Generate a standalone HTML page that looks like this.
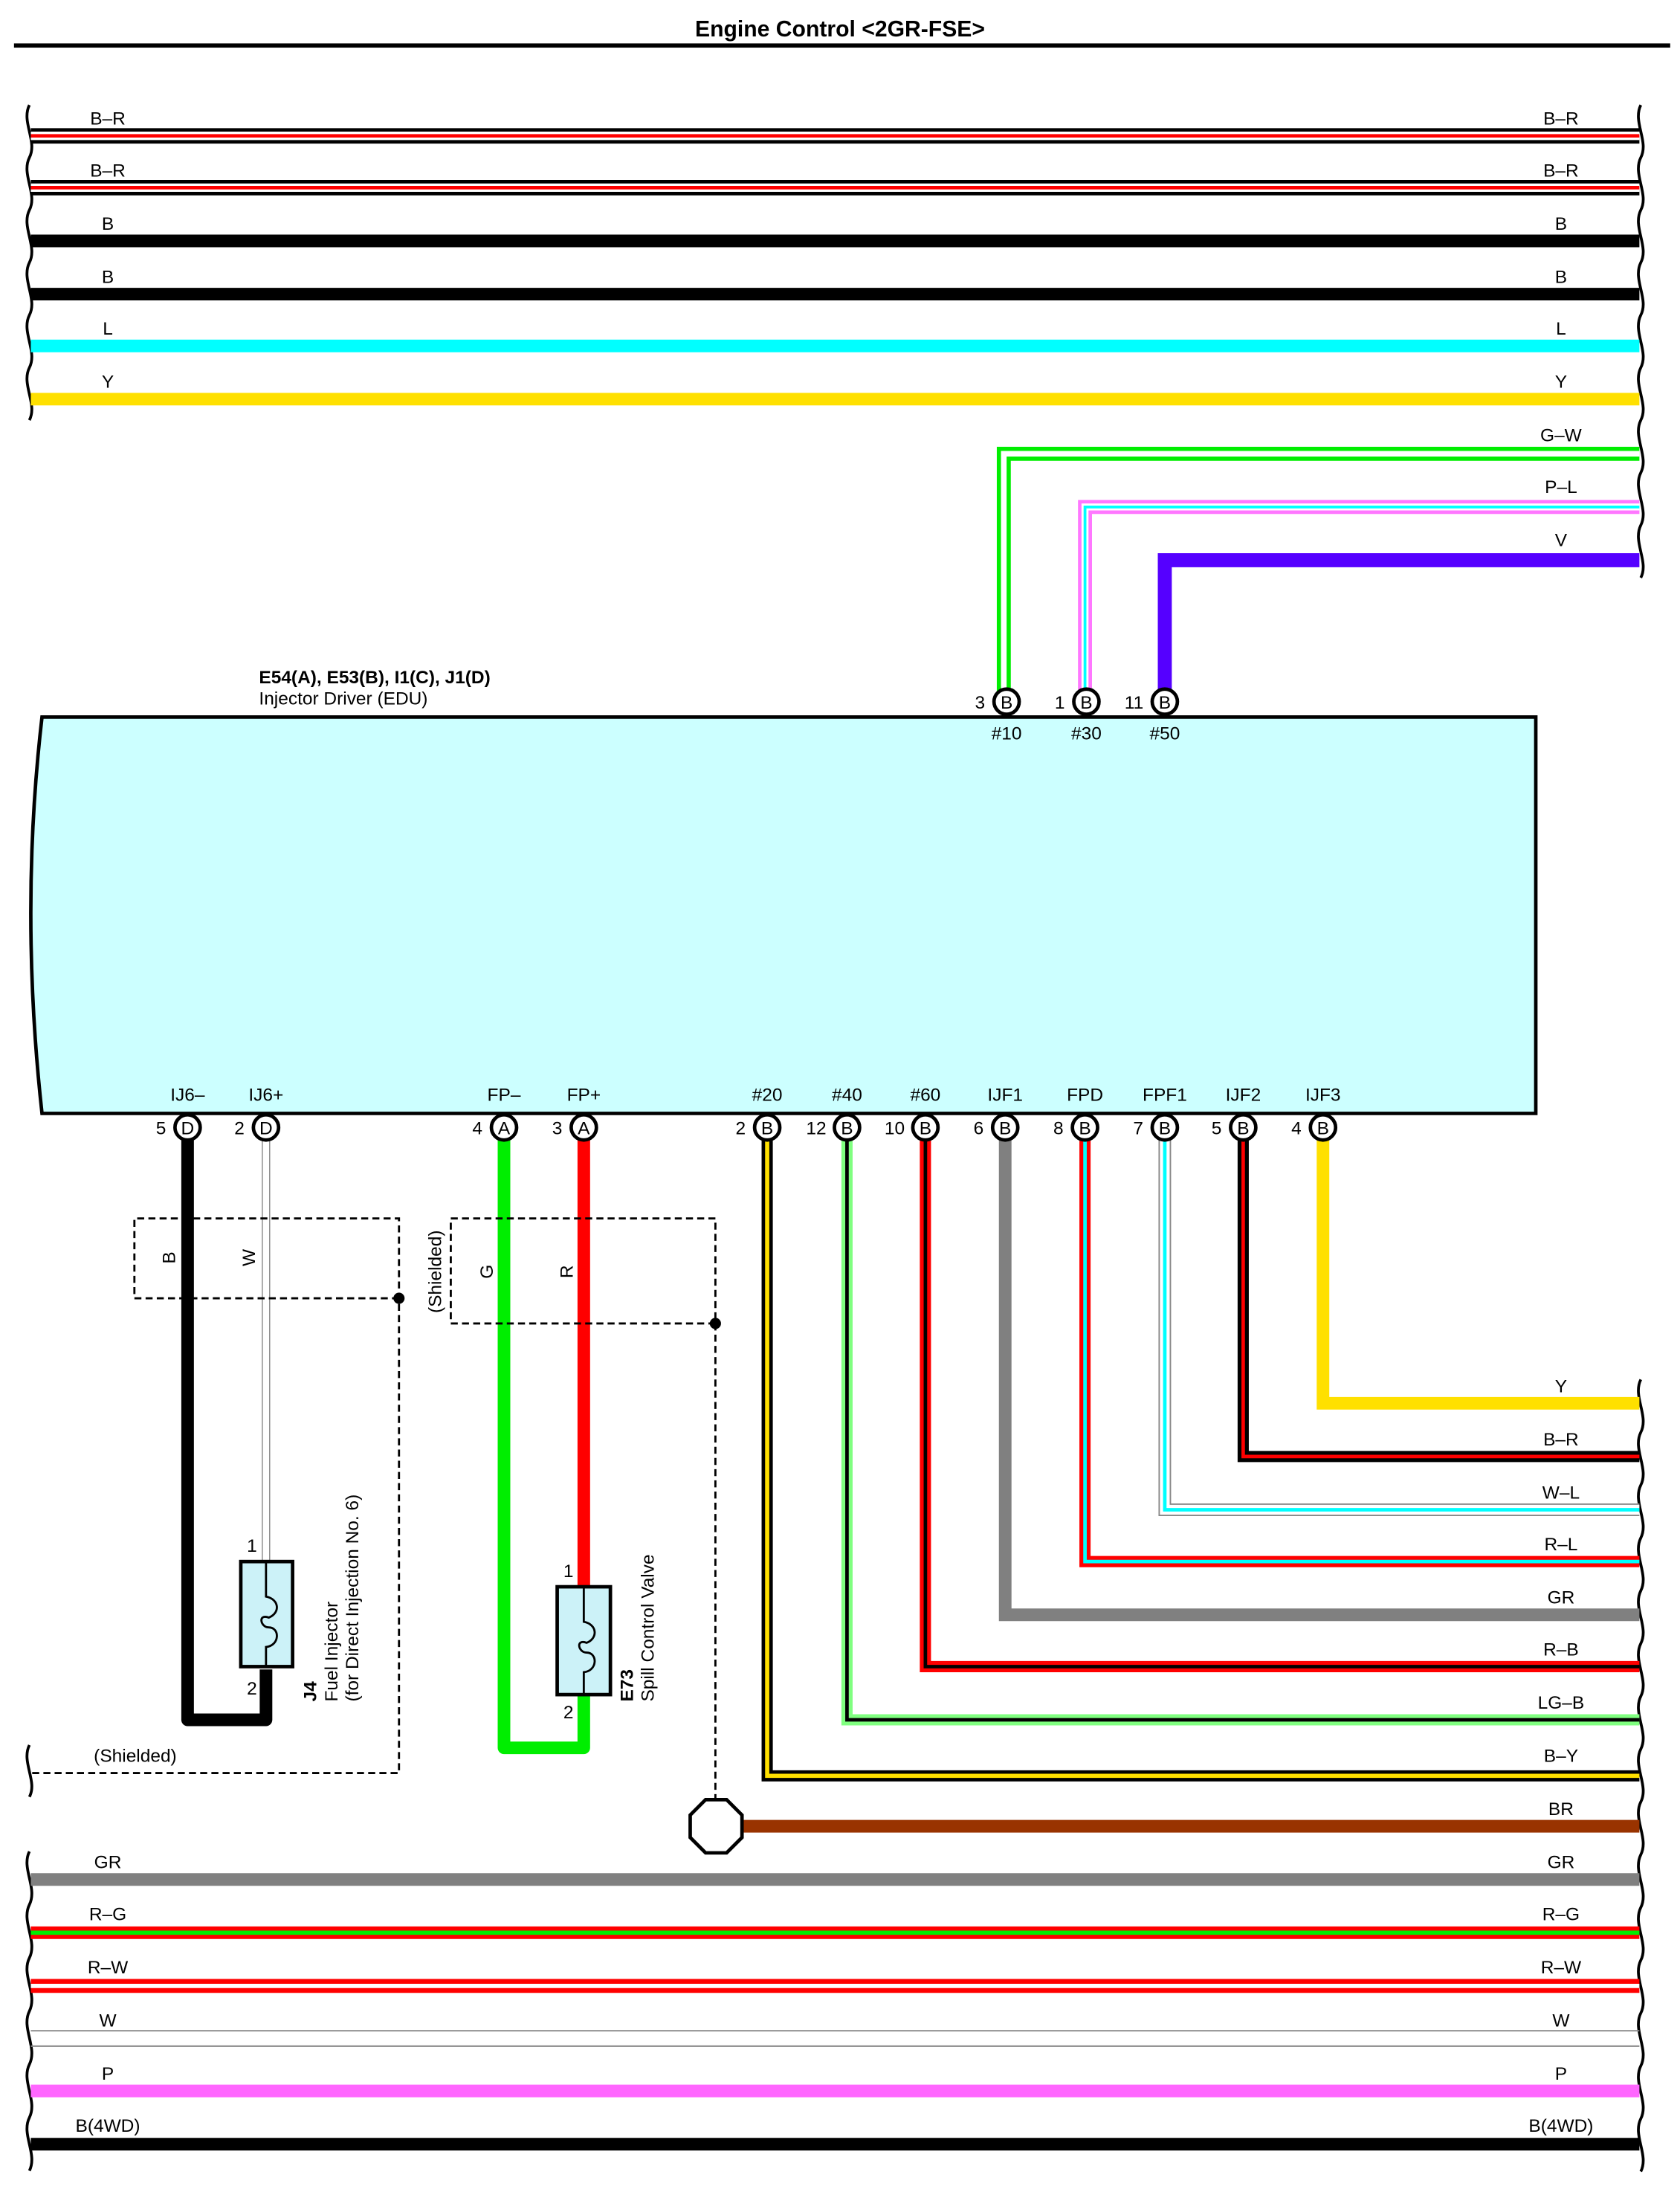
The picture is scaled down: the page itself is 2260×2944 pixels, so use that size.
<!DOCTYPE html>
<html><head><meta charset="utf-8"><style>
html,body{margin:0;padding:0;background:#fff}
svg{display:block}
text{font-family:"Liberation Sans",Arial,sans-serif;font-size:13px;fill:#000}
.c{text-anchor:middle}
</style></head><body>
<svg width="2260" height="2944" viewBox="0 0 1200 1563" preserveAspectRatio="none" xmlns="http://www.w3.org/2000/svg">
<text x="600" y="26" class="c" style="font-size:16px;font-weight:bold">Engine Control &lt;2GR-FSE&gt;</text>
<rect x="10" y="31" width="1183" height="3" fill="#000"/>

<g fill="none" stroke="#000" stroke-width="2">
<path d="M21 75 c-6 12 6 26 0 37.5 c-6 12 6 26 0 37.5 c-6 12 6 26 0 37.5 c-6 12 6 26 0 37.5 c-6 12 6 26 0 37.5 c-6 12 6 26 0 37.5"/>
<path d="M1172 75 c-6 12 6 26 0 37.5 c-6 12 6 26 0 37.5 c-6 12 6 26 0 37.5 c-6 12 6 26 0 37.5 c-6 12 6 26 0 37.5 c-6 12 6 26 0 37.5 c-6 12 6 26 0 37.5 c-6 12 6 26 0 37.5 c-6 12 6 26 0 37.5"/>
<path d="M1172 985 c-6 12 6 26 0 37.7 c-6 12 6 26 0 37.7 c-6 12 6 26 0 37.7 c-6 12 6 26 0 37.7 c-6 12 6 26 0 37.7 c-6 12 6 26 0 37.7 c-6 12 6 26 0 37.7 c-6 12 6 26 0 37.7 c-6 12 6 26 0 37.7 c-6 12 6 26 0 37.7 c-6 12 6 26 0 37.7 c-6 12 6 26 0 37.7 c-6 12 6 26 0 37.7 c-6 12 6 26 0 37.7 c-6 12 6 26 0 37.7"/>
<path d="M21 1246 c-6 12 6 26 0 37"/>
<path d="M21 1322 c-6 12 6 26 0 38 c-6 12 6 26 0 38 c-6 12 6 26 0 38 c-6 12 6 26 0 38 c-6 12 6 26 0 38 c-6 12 6 26 0 38"/>
</g>

<g>
<line x1="22" y1="97" x2="1171" y2="97" stroke="#000" stroke-width="11"/>
<line x1="22" y1="97" x2="1171" y2="97" stroke="#fff" stroke-width="6"/>
<line x1="22" y1="97" x2="1171" y2="97" stroke="#f00" stroke-width="2.5"/>
<line x1="22" y1="134" x2="1171" y2="134" stroke="#000" stroke-width="11"/>
<line x1="22" y1="134" x2="1171" y2="134" stroke="#fff" stroke-width="6"/>
<line x1="22" y1="134" x2="1171" y2="134" stroke="#f00" stroke-width="2.5"/>
<line x1="22" y1="172" x2="1171" y2="172" stroke="#000" stroke-width="9"/>
<line x1="22" y1="210" x2="1171" y2="210" stroke="#000" stroke-width="9"/>
<line x1="22" y1="247" x2="1171" y2="247" stroke="#00ffff" stroke-width="9"/>
<line x1="22" y1="285" x2="1171" y2="285" stroke="#ffe000" stroke-width="9"/>
</g>
<g>
<text x="77" y="89" class="c">B–R</text><text x="1115" y="89" class="c">B–R</text>
<text x="77" y="126" class="c">B–R</text><text x="1115" y="126" class="c">B–R</text>
<text x="77" y="164" class="c">B</text><text x="1115" y="164" class="c">B</text>
<text x="77" y="202" class="c">B</text><text x="1115" y="202" class="c">B</text>
<text x="77" y="239" class="c">L</text><text x="1115" y="239" class="c">L</text>
<text x="77" y="277" class="c">Y</text><text x="1115" y="277" class="c">Y</text>
<text x="1115" y="315" class="c">G–W</text>
<text x="1115" y="352" class="c">P–L</text>
<text x="1115" y="390" class="c">V</text>
</g>

<g fill="none" stroke-linejoin="miter">
<polyline points="717,495 717,324 1171,324" stroke="#00ee00" stroke-width="10"/>
<polyline points="717,495 717,324 1171,324" stroke="#fff" stroke-width="4"/>
<polyline points="775,495 775,362 1171,362" stroke="#ff77ff" stroke-width="10"/>
<polyline points="775,495 775,362 1171,362" stroke="#fff" stroke-width="5"/>
<polyline points="775,495 775,362 1171,362" stroke="#00ffff" stroke-width="2"/>
<polyline points="832,495 832,400 1171,400" stroke="#5500ff" stroke-width="10"/>
</g>

<text x="185" y="488" style="font-weight:bold">E54(A), E53(B), I1(C), J1(D)</text>
<text x="185" y="503">Injector Driver (EDU)</text>

<path d="M30 512 L1097 512 L1097 795 L30 795 Q14 650 30 512 Z" fill="#ccffff" stroke="#000" stroke-width="2.5"/>

<g>
<circle cx="719" cy="501" r="9" fill="#fff" stroke="#000" stroke-width="2.5"/><text x="719" y="506" class="c">B</text><text x="700" y="506" class="c">3</text>
<circle cx="776" cy="501" r="9" fill="#fff" stroke="#000" stroke-width="2.5"/><text x="776" y="506" class="c">B</text><text x="757" y="506" class="c">1</text>
<circle cx="832" cy="501" r="9" fill="#fff" stroke="#000" stroke-width="2.5"/><text x="832" y="506" class="c">B</text><text x="810" y="506" class="c">11</text>
<text x="719" y="528" class="c">#10</text><text x="776" y="528" class="c">#30</text><text x="832" y="528" class="c">#50</text>
</g>

<g>
<text x="134" y="786" class="c">IJ6–</text><text x="190" y="786" class="c">IJ6+</text>
<text x="360" y="786" class="c">FP–</text><text x="417" y="786" class="c">FP+</text>
<text x="548" y="786" class="c">#20</text><text x="605" y="786" class="c">#40</text>
<text x="661" y="786" class="c">#60</text><text x="718" y="786" class="c">IJF1</text>
<text x="775" y="786" class="c">FPD</text><text x="832" y="786" class="c">FPF1</text>
<text x="888" y="786" class="c">IJF2</text><text x="945" y="786" class="c">IJF3</text>
</g>

<g fill="none">
<polyline points="134,812 134,1228 190,1228 190,1192" stroke="#000" stroke-width="9" stroke-linejoin="round"/>
<line x1="190" y1="812" x2="190" y2="1115" stroke="#888" stroke-width="6"/>
<line x1="190" y1="812" x2="190" y2="1115" stroke="#fff" stroke-width="4.5"/>
<polyline points="360,812 360,1248 417,1248 417,1210" stroke="#00ee00" stroke-width="9" stroke-linejoin="round"/>
<line x1="417" y1="812" x2="417" y2="1133" stroke="#ff0000" stroke-width="9"/>

<polyline points="548,812 548,1268 1171,1268" stroke="#000" stroke-width="8"/>
<polyline points="548,812 548,1268 1171,1268" stroke="#ffe000" stroke-width="3"/>
<polyline points="605,812 605,1228 1171,1228" stroke="#80ff80" stroke-width="8"/>
<polyline points="605,812 605,1228 1171,1228" stroke="#000" stroke-width="2.5"/>
<polyline points="661,812 661,1190 1171,1190" stroke="#ff0000" stroke-width="8"/>
<polyline points="661,812 661,1190 1171,1190" stroke="#000" stroke-width="2.5"/>
<polyline points="718,812 718,1153 1171,1153" stroke="#808080" stroke-width="9"/>
<polyline points="775,812 775,1115 1171,1115" stroke="#ff0000" stroke-width="8"/>
<polyline points="775,812 775,1115 1171,1115" stroke="#00ffff" stroke-width="2.5"/>
<polyline points="832,812 832,1078 1171,1078" stroke="#888" stroke-width="9"/>
<polyline points="832,812 832,1078 1171,1078" stroke="#fff" stroke-width="7"/>
<polyline points="832,812 832,1078 1171,1078" stroke="#00ffff" stroke-width="2.5"/>
<polyline points="888,812 888,1040 1171,1040" stroke="#000" stroke-width="8"/>
<polyline points="888,812 888,1040 1171,1040" stroke="#ff0000" stroke-width="2.5"/>
<polyline points="945,812 945,1002 1171,1002" stroke="#ffe000" stroke-width="9"/>
<line x1="530" y1="1304" x2="1171" y2="1304" stroke="#993300" stroke-width="9"/>
</g>
<g>
<text x="1115" y="994" class="c">Y</text>
<text x="1115" y="1032" class="c">B–R</text>
<text x="1115" y="1070" class="c">W–L</text>
<text x="1115" y="1107" class="c">R–L</text>
<text x="1115" y="1145" class="c">GR</text>
<text x="1115" y="1182" class="c">R–B</text>
<text x="1115" y="1220" class="c">LG–B</text>
<text x="1115" y="1258" class="c">B–Y</text>
<text x="1115" y="1296" class="c">BR</text>
</g>

<g>
<circle cx="134" cy="805" r="9" fill="#fff" stroke="#000" stroke-width="2.5"/><text x="134" y="810" class="c">D</text><text x="115" y="810" class="c">5</text>
<circle cx="190" cy="805" r="9" fill="#fff" stroke="#000" stroke-width="2.5"/><text x="190" y="810" class="c">D</text><text x="171" y="810" class="c">2</text>
<circle cx="360" cy="805" r="9" fill="#fff" stroke="#000" stroke-width="2.5"/><text x="360" y="810" class="c">A</text><text x="341" y="810" class="c">4</text>
<circle cx="417" cy="805" r="9" fill="#fff" stroke="#000" stroke-width="2.5"/><text x="417" y="810" class="c">A</text><text x="398" y="810" class="c">3</text>
<circle cx="548" cy="805" r="9" fill="#fff" stroke="#000" stroke-width="2.5"/><text x="548" y="810" class="c">B</text><text x="529" y="810" class="c">2</text>
<circle cx="605" cy="805" r="9" fill="#fff" stroke="#000" stroke-width="2.5"/><text x="605" y="810" class="c">B</text><text x="583" y="810" class="c">12</text>
<circle cx="661" cy="805" r="9" fill="#fff" stroke="#000" stroke-width="2.5"/><text x="661" y="810" class="c">B</text><text x="639" y="810" class="c">10</text>
<circle cx="718" cy="805" r="9" fill="#fff" stroke="#000" stroke-width="2.5"/><text x="718" y="810" class="c">B</text><text x="699" y="810" class="c">6</text>
<circle cx="775" cy="805" r="9" fill="#fff" stroke="#000" stroke-width="2.5"/><text x="775" y="810" class="c">B</text><text x="756" y="810" class="c">8</text>
<circle cx="832" cy="805" r="9" fill="#fff" stroke="#000" stroke-width="2.5"/><text x="832" y="810" class="c">B</text><text x="813" y="810" class="c">7</text>
<circle cx="888" cy="805" r="9" fill="#fff" stroke="#000" stroke-width="2.5"/><text x="888" y="810" class="c">B</text><text x="869" y="810" class="c">5</text>
<circle cx="945" cy="805" r="9" fill="#fff" stroke="#000" stroke-width="2.5"/><text x="945" y="810" class="c">B</text><text x="926" y="810" class="c">4</text>
</g>

<g fill="none" stroke="#000" stroke-width="1.5" stroke-dasharray="5,3">
<path d="M285 927 L96 927 L96 870 L285 870 L285 1266 L22 1266"/>
<path d="M511 945 L322 945 L322 870 L511 870 L511 1284"/>
</g>
<circle cx="285" cy="927" r="4" fill="#000"/>
<circle cx="511" cy="945" r="4" fill="#000"/>
<text x="67" y="1258">(Shielded)</text>
<text transform="translate(315,908) rotate(-90)" class="c">(Shielded)</text>
<text transform="translate(125,898) rotate(-90)" class="c">B</text>
<text transform="translate(182,898) rotate(-90)" class="c">W</text>
<text transform="translate(352,908) rotate(-90)" class="c">G</text>
<text transform="translate(409,908) rotate(-90)" class="c">R</text>

<polygon points="504,1285 519,1285 530,1296 530,1312 519,1323 504,1323 493,1312 493,1296" fill="#fff" stroke="#000" stroke-width="2.5"/>

<rect x="172" y="1115" width="37" height="75" fill="#ccf2f8" stroke="#000" stroke-width="2.5"/>
<path d="M190 1115 L190 1140 C200 1142 200 1152 192 1155 C184 1152 186 1162 192 1162 C200 1162 200 1175 190 1176 L190 1190" fill="none" stroke="#000" stroke-width="1.5"/>
<text x="180" y="1108" class="c">1</text><text x="180" y="1210" class="c">2</text>
<text transform="translate(226,1215) rotate(-90)" style="font-weight:bold">J4</text>
<text transform="translate(241,1215) rotate(-90)">Fuel Injector</text>
<text transform="translate(256,1215) rotate(-90)">(for Direct Injection No. 6)</text>

<rect x="398" y="1133" width="38" height="77" fill="#ccf2f8" stroke="#000" stroke-width="2.5"/>
<path d="M417 1133 L417 1158 C427 1160 427 1170 419 1173 C411 1170 413 1180 419 1180 C427 1180 427 1193 417 1194 L417 1210" fill="none" stroke="#000" stroke-width="1.5"/>
<text x="406" y="1126" class="c">1</text><text x="406" y="1227" class="c">2</text>
<text transform="translate(452,1215) rotate(-90)" style="font-weight:bold">E73</text>
<text transform="translate(467,1215) rotate(-90)">Spill Control Valve</text>

<g>
<line x1="22" y1="1342" x2="1171" y2="1342" stroke="#808080" stroke-width="9"/>
<line x1="22" y1="1380" x2="1171" y2="1380" stroke="#ff0000" stroke-width="9"/>
<line x1="22" y1="1380" x2="1171" y2="1380" stroke="#00ee00" stroke-width="3"/>
<line x1="22" y1="1418" x2="1171" y2="1418" stroke="#ff0000" stroke-width="10"/>
<line x1="22" y1="1418" x2="1171" y2="1418" stroke="#fff" stroke-width="3"/>
<line x1="22" y1="1450" x2="1171" y2="1450" stroke="#888" stroke-width="1"/>
<line x1="22" y1="1461" x2="1171" y2="1461" stroke="#888" stroke-width="1"/>
<line x1="22" y1="1493" x2="1171" y2="1493" stroke="#ff66ff" stroke-width="9"/>
<line x1="22" y1="1531" x2="1171" y2="1531" stroke="#000" stroke-width="9"/>
</g>
<g>
<text x="77" y="1334" class="c">GR</text><text x="1115" y="1334" class="c">GR</text>
<text x="77" y="1371" class="c">R–G</text><text x="1115" y="1371" class="c">R–G</text>
<text x="77" y="1409" class="c">R–W</text><text x="1115" y="1409" class="c">R–W</text>
<text x="77" y="1447" class="c">W</text><text x="1115" y="1447" class="c">W</text>
<text x="77" y="1485" class="c">P</text><text x="1115" y="1485" class="c">P</text>
<text x="77" y="1522" class="c">B(4WD)</text><text x="1115" y="1522" class="c">B(4WD)</text>
</g>
</svg>
</body></html>
